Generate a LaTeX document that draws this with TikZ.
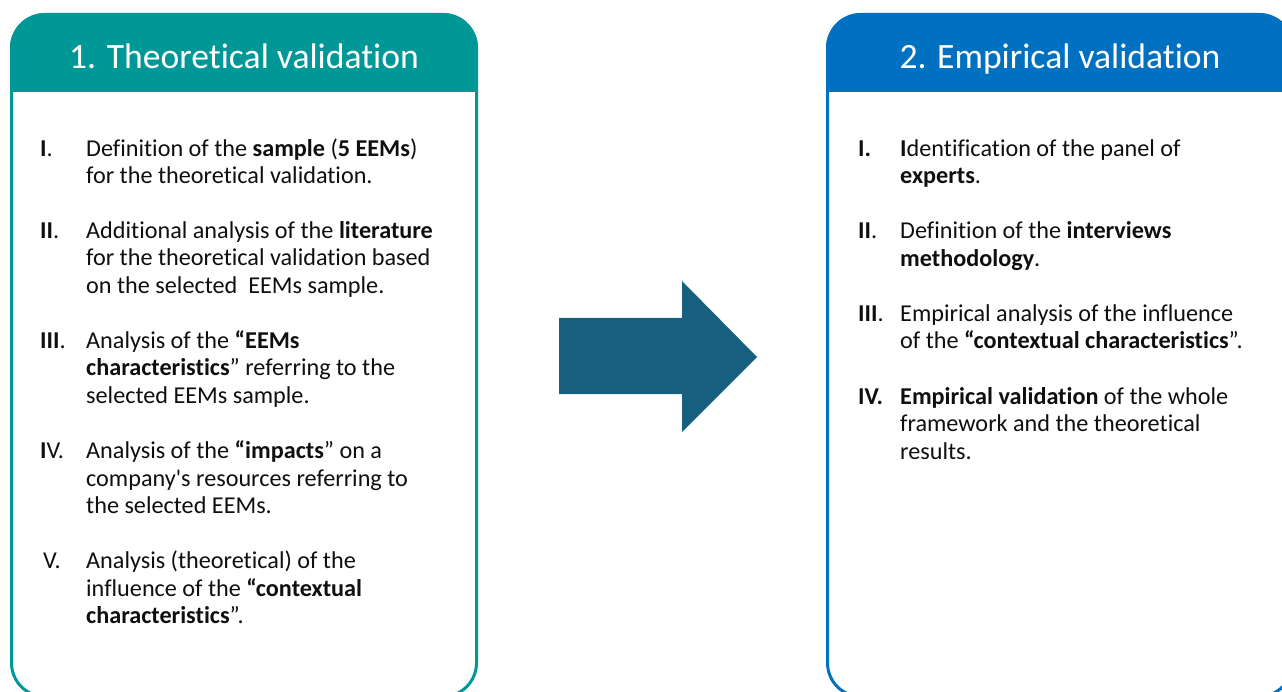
\documentclass[tikz,border=0pt]{standalone}
\usepackage{fontspec}
\setmainfont[Ligatures={NoCommon,TeX}]{Carlito}
\definecolor{tealc}{RGB}{0,151,151}
\definecolor{bluec}{RGB}{0,112,192}
\definecolor{arrowc}{RGB}{23,95,127}
\definecolor{txt}{RGB}{15,15,15}
\begin{document}
\begin{tikzpicture}[x=1pt,y=-1pt,
  ttl/.style={font=\fontsize{35.6}{40}\selectfont, text=white, anchor=base, inner sep=0},
  ln/.style={font=\fontsize{24.2}{27.5}\selectfont, text=txt, anchor=base west, inner sep=0},
  num/.style={font=\fontsize{24.2}{27.5}\selectfont, text=txt, anchor=base west, inner sep=0}]
\useasboundingbox (0,0) rectangle (1282,692);
\clip (0,0) rectangle (1282,692);
% left box
\begin{scope}
\clip[rounded corners=35] (10,13) rectangle (478,698);
\fill[white] (10,13) rectangle (478,698);
\fill[tealc] (10,13) rectangle (478,92.5);
\end{scope}
\draw[tealc, line width=3, rounded corners=33.5] (11.5,14.5) rectangle (476.5,696.5);
% right box
\begin{scope}
\clip[rounded corners=35] (826,13) rectangle (1294,698);
\fill[white] (826,13) rectangle (1294,698);
\fill[bluec] (826,13) rectangle (1294,92.5);
\end{scope}
\draw[bluec, line width=3, rounded corners=33.5] (827.5,14.5) rectangle (1292.5,696.5);
% titles
\node[ttl] (t1) at (244,68.5) {1. Theoretical validation};
\node[ttl] (t2) at (1060,68.5) {2. Empirical validation};
% arrow
\fill[arrowc] (559,318) -- (682,318) -- (682,281) -- (757,357) -- (682,432) -- (682,394) -- (559,394) -- cycle;
% left items
\node[num] (l1n) at (40,156.5) {\textbf{I}.};
\node[ln] (l1a) at (86,156.5) {Definition of the \textbf{sample} (\textbf{5 EEMs})};
\node[ln] (l1b) at (86,184) {for the theoretical validation.};
\node[num] (l2n) at (40,238.5) {\textbf{II}.};
\node[ln] (l2a) at (86,238.5) {Additional analysis of the \textbf{literature}};
\node[ln] (l2b) at (86,266) {for the theoretical validation based};
\node[ln] (l2c) at (86,293.5) {on the selected\ \ EEMs sample.};
\node[num] (l3n) at (40,348.5) {\textbf{III}.};
\node[ln] (l3a) at (86,348.5) {Analysis of the \textbf{“EEMs}};
\node[ln] (l3b) at (86,376) {\textbf{characteristics}” referring to the};
\node[ln] (l3c) at (86,403.5) {selected EEMs sample.};
\node[num] (l4n) at (40,458.5) {\textbf{I}V.};
\node[ln] (l4a) at (86,458.5) {Analysis of the \textbf{“impacts}” on a};
\node[ln] (l4b) at (86,486) {company\textquotesingle s resources referring to};
\node[ln] (l4c) at (86,513.5) {the selected EEMs.};
\node[num] (l5n) at (43,568.5) {V.};
\node[ln] (l5a) at (86,568.5) {Analysis (theoretical) of the};
\node[ln] (l5b) at (86,596) {influence of the \textbf{“contextual}};
\node[ln] (l5c) at (86,623.5) {\textbf{characteristics}”.};
% right items
\node[num] (r1n) at (858,156.5) {\textbf{I.}};
\node[ln] (r1a) at (900,156.5) {\textbf{I}dentification of the panel of};
\node[ln] (r1b) at (900,184) {\textbf{experts}.};
\node[num] (r2n) at (858,239) {\textbf{II}.};
\node[ln] (r2a) at (900,239) {Definition of the \textbf{interviews}};
\node[ln] (r2b) at (900,266.5) {\textbf{methodology}.};
\node[num] (r3n) at (858,321.5) {\textbf{III}.};
\node[ln] (r3a) at (900,321.5) {Empirical analysis of the influence};
\node[ln] (r3b) at (900,349) {of the \textbf{“contextual characteristics}”.};
\node[num] (r4n) at (858,404) {\textbf{IV.}};
\node[ln] (r4a) at (900,404) {\textbf{Empirical validation} of the whole};
\node[ln] (r4b) at (900,431.5) {framework and the theoretical};
\node[ln] (r4c) at (900,459) {results.};
\end{tikzpicture}
\end{document}
